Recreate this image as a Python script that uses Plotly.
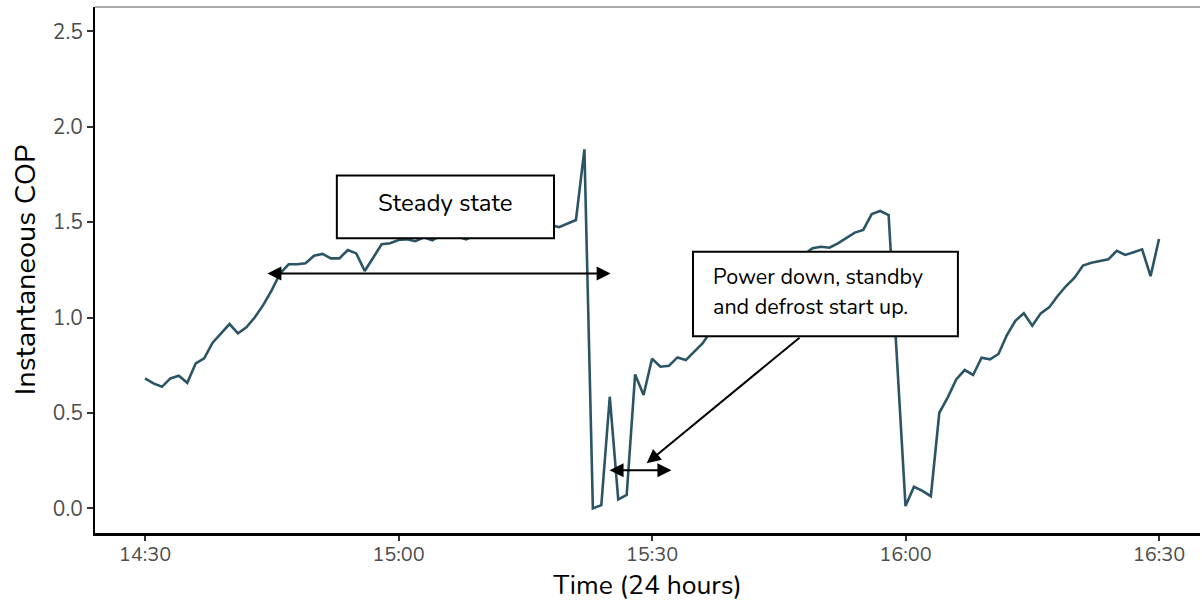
import pandas as pd
import plotly.graph_objects as go

# ---------------- data ----------------
start_time = "2021-01-01 14:30"
n_minutes = 121
cop = [
    0.681, 0.655, 0.637, 0.681, 0.695, 0.658, 0.760, 0.786, 0.868, 0.920,
    0.966, 0.917, 0.949, 1.001, 1.066, 1.144, 1.232, 1.279, 1.279, 1.284,
    1.324, 1.333, 1.310, 1.310, 1.354, 1.336, 1.244, 1.313, 1.384, 1.389,
    1.406, 1.410, 1.400, 1.420, 1.405, 1.430, 1.440, 1.425, 1.410, 1.430,
    1.450, 1.440, 1.460, 1.450, 1.470, 1.460, 1.480, 1.470, 1.485, 1.473,
    1.490, 1.511, 1.881, 0.000, 0.017, 0.585, 0.047, 0.070, 0.702, 0.594,
    0.784, 0.742, 0.747, 0.791, 0.777, 0.821, 0.865, 0.930, 0.980, 1.020,
    1.050, 1.090, 1.120, 1.150, 1.190, 1.220, 1.260, 1.290, 1.330, 1.363,
    1.371, 1.366, 1.389, 1.415, 1.445, 1.459, 1.542, 1.558, 1.537, None,
    0.012, 0.113, 0.092, 0.064, 0.501, 0.582, 0.676, 0.725, 0.699, 0.789,
    0.781, 0.809, 0.908, 0.983, 1.022, 0.957, 1.022, 1.053, 1.113, 1.165,
    1.209, 1.272, 1.287, 1.298, 1.305, 1.349, 1.328, 1.342, 1.357, 1.217,
    1.411,
]
y_ticks = [0.0, 0.5, 1.0, 1.5, 2.0, 2.5]
x_title = "Time (24 hours)"
y_title = "Instantaneous COP"
label_steady = "Steady state"
label_power = ["Power down, standby", "and defrost start up."]

times = pd.date_range(start_time, periods=n_minutes, freq="min")
t0 = pd.Timestamp(start_time)


def t(minutes):
    return (t0 + pd.Timedelta(minutes=minutes)).strftime("%Y-%m-%d %H:%M:%S.%f")


FONT = "Nunito, Open Sans, sans-serif"
LINE_COLOR = "#2b5564"

fig = go.Figure()
fig.add_trace(go.Scatter(
    x=times, y=cop, mode="lines", connectgaps=True,
    line=dict(color=LINE_COLOR, width=2.6), hoverinfo="skip", showlegend=False,
))

# annotation boxes (white-filled, drawn above the line)
fig.add_shape(type="rect", xref="x", yref="y", layer="above",
              x0=t(22.7), x1=t(48.4), y0=1.415, y1=1.744,
              fillcolor="white", line=dict(color="black", width=2))
fig.add_shape(type="rect", xref="x", yref="y", layer="above",
              x0=t(64.85), x1=t(96.2), y0=0.902, y1=1.345,
              fillcolor="white", line=dict(color="black", width=2))

# top panel border
fig.add_shape(type="line", xref="paper", yref="paper", x0=0, x1=1, y0=1, y1=1,
              line=dict(color="#555555", width=1))

fig.add_annotation(x=t(35.56), y=1.600, xref="x", yref="y", text=label_steady,
                   showarrow=False, font=dict(family=FONT, size=24, color="black"))
fig.add_annotation(x=t(66.95), y=1.212, xref="x", yref="y", text=label_power[0],
                   xanchor="left", showarrow=False,
                   font=dict(family=FONT, size=21.5, color="black"))
fig.add_annotation(x=t(66.95), y=1.055, xref="x", yref="y", text=label_power[1],
                   xanchor="left", showarrow=False,
                   font=dict(family=FONT, size=21.5, color="black"))

arrow_kw = dict(xref="x", yref="y", axref="x", ayref="y", text="", showarrow=True,
                arrowhead=2, arrowsize=1.4, arrowwidth=2, arrowcolor="black",
                standoff=0, startstandoff=0, startarrowhead=2, startarrowsize=1.4)
fig.add_annotation(x=t(55.1), y=1.231, ax=t(14.3), ay=1.231, arrowside="end+start", **arrow_kw)
fig.add_annotation(x=t(62.3), y=0.200, ax=t(54.8), ay=0.200, arrowside="end+start", **arrow_kw)
fig.add_annotation(x=t(59.37), y=0.236, ax=t(77.63), ay=0.901, arrowside="end", **arrow_kw)

fig.update_layout(
    width=1202, height=603,
    margin=dict(l=95, r=2, t=7, b=70),
    plot_bgcolor="white", paper_bgcolor="white",
    font=dict(family=FONT),
    xaxis=dict(
        type="date", range=[t(-5.92), t(124.85)],
        tick0=start_time, dtick=30 * 60 * 1000, tickformat="%H:%M",
        showgrid=False, zeroline=False,
        showline=True, linecolor="black", linewidth=2.5,
        ticks="outside", ticklen=5, tickwidth=1.5, tickcolor="#333333",
        tickfont=dict(family=FONT, size=20, color="#4d4d4d"),
        title=dict(text=x_title, font=dict(family=FONT, size=26.5, color="black"), standoff=12),
    ),
    yaxis=dict(
        range=[-0.129, 2.627], tickvals=y_ticks, tickformat=".1f",
        showgrid=False, zeroline=False,
        showline=True, linecolor="black", linewidth=2,
        ticks="outside", ticklen=6, tickwidth=1.5, tickcolor="#333333",
        tickfont=dict(family=FONT, size=21, color="#4d4d4d"),
        title=dict(text=y_title, font=dict(family=FONT, size=29, color="black"), standoff=9),
    ),
)

# pull the x tick labels slightly closer to the axis (if supported)
try:
    fig.update_xaxes(ticklabelstandoff=-4)
except (ValueError, TypeError):
    pass

fig.write_html("out.html", config={"displayModeBar": False},
               post_script="document.body.style.margin='0';document.body.style.overflow='hidden';")
